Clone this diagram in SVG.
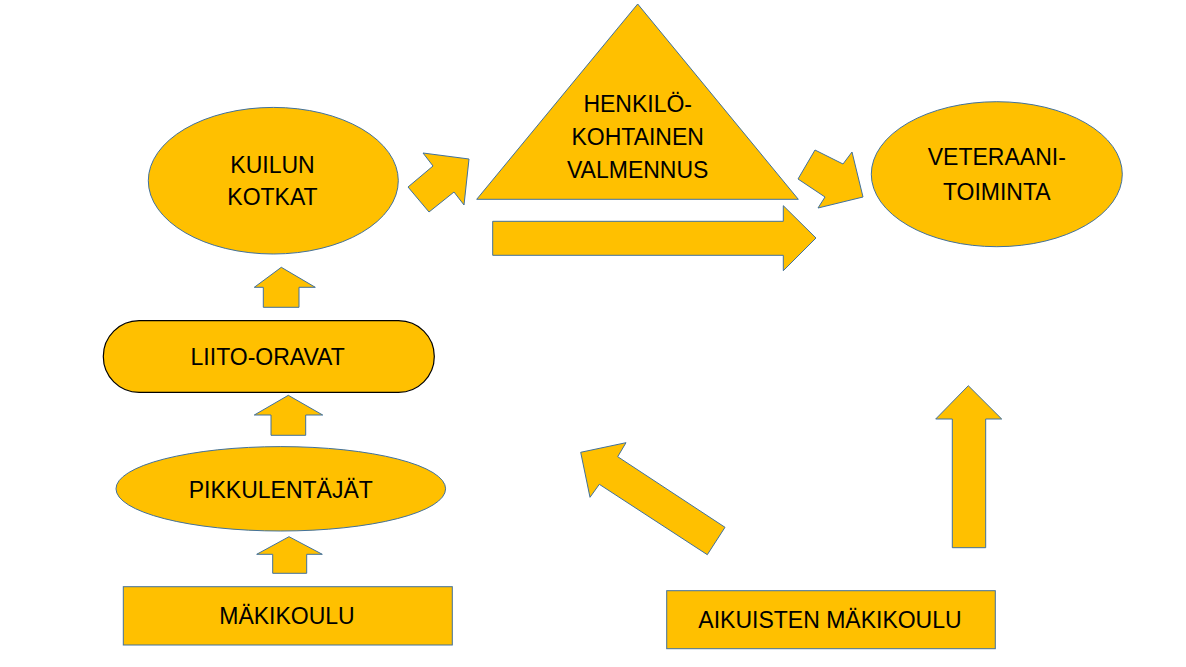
<svg xmlns="http://www.w3.org/2000/svg" width="1186" height="667" viewBox="0 0 1186 667">
<style>
.s{fill:#FFC000;stroke:#41719C;stroke-width:1}
.b{fill:#FFC000;stroke:#000;stroke-width:1.2}
.t{font-family:"Liberation Sans",Arial,sans-serif;font-size:23px;fill:#000;text-anchor:middle}
</style>
<rect width="1186" height="667" fill="#fff"/>
<g id="connectors">
<polygon class="s" points="254.3,287.3 281.3,267.3 315.3,287.3 299,287.3 299,307.3 263.3,307.3 263.3,287.3"/>
<polygon class="s" points="254.3,415 288.3,395.3 322.7,415 305.7,415 305.7,435.3 271,435.3 271,415"/>
<polygon class="s" points="256.7,554.3 289,536.7 322.3,554.3 306.7,554.3 306.7,573.3 272.7,573.3 272.7,554.3"/>
<polygon class="s" points="423,153 469,159 464,205 454,192 429,212 408,187 433,166"/>
<polygon class="s" points="492.7,221.3 783.3,221.3 783.3,205.7 816,238 783.3,270.7 783.3,255.3 492.7,255.3"/>
<polygon class="s" points="815,150 843,164 852,152 863,197 818,208 825,197 798,179"/>
<polygon class="s" points="580.7,452.3 626,442.7 617.7,456.7 725,527.3 707.3,554.7 599.3,484.3 590,497.3"/>
<polygon class="s" points="935.7,419 968.3,385.7 1001.7,419 985.7,419 985.7,547.7 952.3,547.7 952.3,419"/>
</g>
<g id="kuilun">
<ellipse class="s" cx="273.3" cy="180.7" rx="125" ry="73.3"/>
<text class="t" x="272.5" y="172.7">KUILUN</text>
<text class="t" x="272.5" y="205.3">KOTKAT</text>
</g>
<g id="henkilo">
<polygon class="s" points="637.7,4 798.3,199.3 476.7,199.3"/>
<text class="t" x="637.7" y="112">HENKILÖ-</text>
<text class="t" x="637.7" y="145">KOHTAINEN</text>
<text class="t" x="637.7" y="178">VALMENNUS</text>
</g>
<g id="veteraani">
<ellipse class="s" cx="996.8" cy="174.2" rx="125.5" ry="72.5"/>
<text class="t" x="996.8" y="165">VETERAANI-</text>
<text class="t" x="996.8" y="200">TOIMINTA</text>
</g>
<g id="liito">
<rect class="b" x="103.3" y="320.7" width="331" height="71.6" rx="35.8" ry="35.8"/>
<text class="t" x="267.7" y="365">LIITO-ORAVAT</text>
</g>
<g id="pikku">
<ellipse class="s" cx="280.8" cy="488.8" rx="164.8" ry="42.2"/>
<text class="t" x="280.8" y="498.3">PIKKULENTÄJÄT</text>
</g>
<g id="makikoulu">
<rect class="s" x="123.3" y="586.7" width="329" height="58.3"/>
<text class="t" x="287" y="624.3">MÄKIKOULU</text>
</g>
<g id="aikuisten">
<rect class="s" x="666.7" y="590.7" width="328.6" height="58"/>
<text class="t" x="830" y="628.3">AIKUISTEN MÄKIKOULU</text>
</g>
</svg>
